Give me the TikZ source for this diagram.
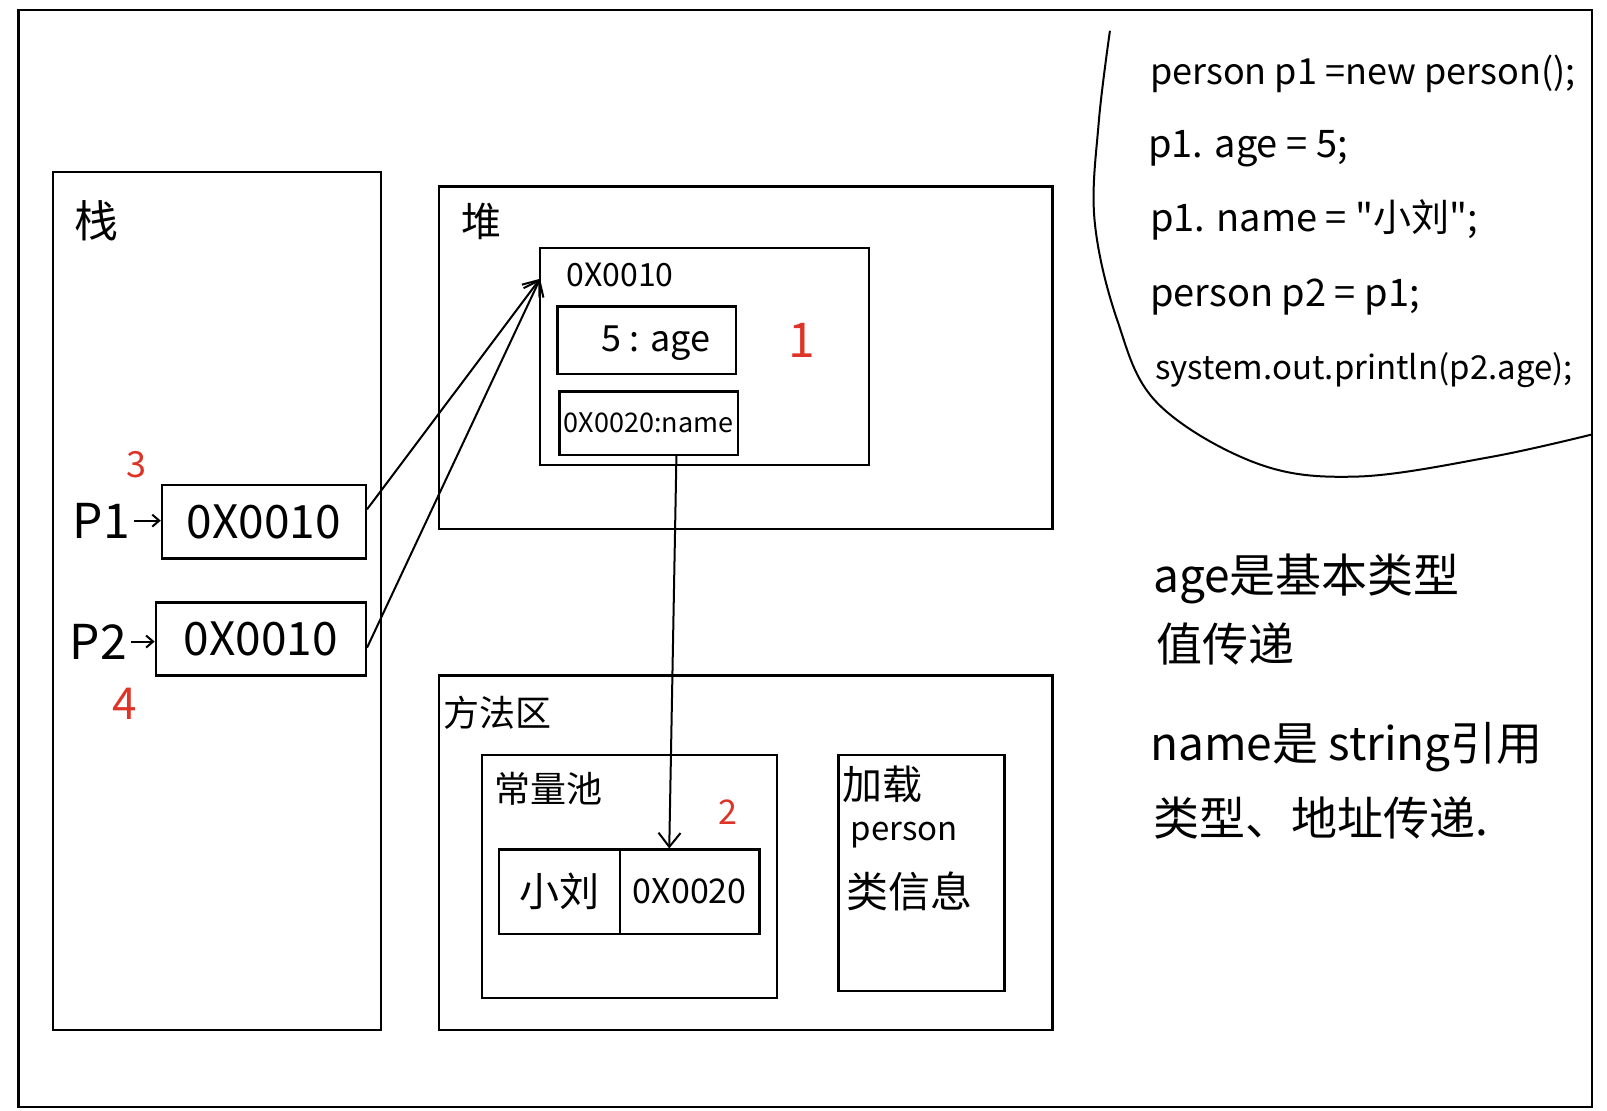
\documentclass[tikz,border=0pt]{standalone}
\usepackage{fontspec}
\setmainfont{Noto Sans CJK SC}
\usetikzlibrary{arrows.meta,fit}
\newcommand\fsz[1]{\fontsize{#1}{#1}\selectfont}
\definecolor{numred}{RGB}{222,52,40}
\begin{document}
\begin{tikzpicture}[x=1.0249pt,y=-1.0249pt,
  box/.style={draw, line width=2.3pt, inner sep=0pt},
  lab/.style={inner sep=0pt},
  num/.style={inner sep=0pt, text=numred},
  conn/.style={line width=2pt},
  barb/.style={-{Straight Barb[length=14pt,width=22pt,line width=2pt]}},
  smallbarb/.style={-{Straight Barb[length=7pt,width=12pt,line width=2pt]}},
  codeline/.style={inner sep=0pt, anchor=base west, font=\fsz{38}},
  noteline/.style={inner sep=0pt, anchor=base west, font=\fsz{46}}
]
\useasboundingbox (0,0) rectangle (1568,1084);
\fill[white] (0,0) rectangle (1568,1084);

% outer frame
\node[box, fit={(18,10) (1553,1080)}] (frame) {};

% stack
\node[box, fit={(52,168) (372,1005)}] (stack) {};
\node[lab, font=\fsz{44}] (stacklab) at (94,215) {栈};
\node[box, fit={(158,473) (357,545)}] (p1box) {};
\node[lab, font=\fsz{46}] (p1val) at (p1box.center) {0X0010};
\node[box, fit={(152,588) (357,659)}] (p2box) {};
\node[lab, font=\fsz{46}] (p2val) at (p2box.center) {0X0010};
\node[lab, font=\fsz{48}, anchor=east] (p1lab) at (127,508) {P1};
\node[lab, font=\fsz{48}, anchor=east] (p2lab) at (124,626) {P2};
\draw[conn, smallbarb] (p1lab.east) ++(4,0) coordinate (p1s) -- (p1box.west |- p1s);
\draw[conn, smallbarb] (p2lab.east) ++(4,0) coordinate (p2s) -- (p2box.west |- p2s);
\node[num, font=\fsz{36}] (n3) at (133,453) {3};
\node[num, font=\fsz{44}] (n4) at (122,687) {4};

% heap
\node[box, fit={(428,182) (1027,516)}] (heap) {};
\node[lab, font=\fsz{40}] (heaplab) at (470,216) {堆};
\node[box, fit={(527,242) (848,454)}] (obj) {};
\node[lab, font=\fsz{32}] (objlab) at (605,268) {0X0010};
\node[box, fit={(544,299) (718,365)}] (agebox) {};
\node[lab, font=\fsz{36}] (ageval) at (640,335) {5 : age};
\node[box, fit={(546,382) (720,444)}] (namebox) {};
\node[lab, font=\fsz{27}] (nameval) at (633,413) {0X0020:name};
\node[num, font=\fsz{48}] (n1) at (782,332) {1};
\coordinate (objin) at (527,272);
\draw[conn, barb] (p1box.east |- 0,497) -- (objin);
\draw[conn, barb] (p2box.east |- 0,632) -- (objin);

% method area
\node[box, fit={(428,659) (1027,1005)}] (method) {};
\node[lab, font=\fsz{36}] (methodlab) at (485,695) {方法区};
\node[box, fit={(470,737) (758,974)}] (pool) {};
\node[lab, font=\fsz{36}] (poollab) at (535,770) {常量池};
\node[num, font=\fsz{34}] (n2) at (710,792) {2};
\node[box, fit={(487,829) (605,911)}] (cellname) {};
\node[box, fit={(605,829) (741,911)}] (celladdr) {};
\node[lab, font=\fsz{40}] (cellnametxt) at (cellname.center) {小刘};
\node[lab, font=\fsz{34}] (celladdrtxt) at (celladdr.center) {0X0020};
\draw[conn, barb] (namebox.south -| 660,0) -- (celladdr.north -| 653,0);
\node[box, fit={(818,737) (980,967)}] (classbox) {};
\node[lab, font=\fsz{40}, anchor=west] (cl1) at (822,765) {加载};
\node[lab, font=\fsz{33}, anchor=west] (cl2) at (830,815) {person};
\node[lab, font=\fsz{42}, anchor=west] (cl3) at (826,870) {类信息};

% code area
\draw[line width=2pt] plot[smooth, tension=0.6] coordinates {(1083,30) (1072,120) (1068,215) (1090,312) (1129,393) (1226,452) (1324,465) (1454,446) (1553,424)};
\node[codeline, font=\fsz{36}] (c1) at (1122,82) {person p1 =new person();};
\node[codeline] (c2) at (1120,154) {p1. age = 5;};
\node[codeline] (c3) at (1122,226) {p1. name = \textquotedbl 小刘\textquotedbl;};
\node[codeline] (c4) at (1122,299) {person p2 = p1;};
\node[codeline, font=\fsz{33}] (c5) at (1127,370) {system.out.println(p2.age);};

% notes
\node[noteline] (t1) at (1125,578) {age是基本类型};
\node[noteline] (t2) at (1128,645) {值传递};
\node[noteline] (t3) at (1122,742) {name是 string引用};
\node[noteline] (t4) at (1125,815) {类型、地址传递.};
\end{tikzpicture}
\end{document}
